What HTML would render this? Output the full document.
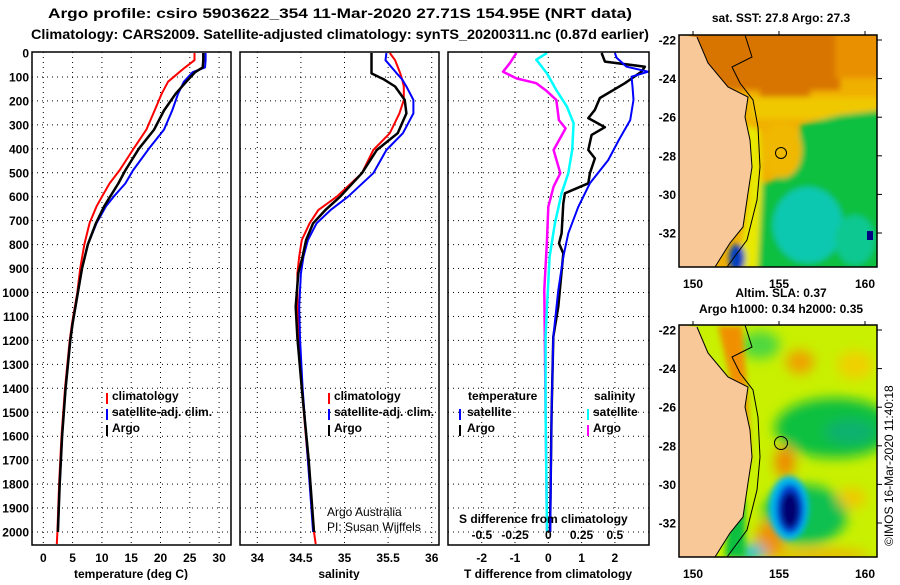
<!DOCTYPE html>
<html><head><meta charset="utf-8"><style>
body{margin:0;background:#fff;}
svg text{font-family:"Liberation Sans",Arial,sans-serif;font-weight:bold;font-size:12px;fill:#000;}
</style></head><body>
<svg id="c" width="900" height="580" viewBox="0 0 900 580" xmlns="http://www.w3.org/2000/svg">
<defs>
<filter id="bl" x="-30%" y="-30%" width="160%" height="160%"><feGaussianBlur stdDeviation="6"/></filter>
<filter id="bl2" x="-30%" y="-30%" width="160%" height="160%"><feGaussianBlur stdDeviation="3"/></filter>
<clipPath id="m1"><rect x="679" y="35" width="198" height="232"/></clipPath>
<clipPath id="m2"><rect x="679" y="325" width="198" height="232"/></clipPath>
</defs>
<text x="340" y="18" text-anchor="middle" textLength="584" lengthAdjust="spacingAndGlyphs" style="font-size:14px">Argo profile: csiro 5903622_354 11-Mar-2020 27.71S 154.95E (NRT data)</text>
<text x="340" y="39" text-anchor="middle" textLength="618" lengthAdjust="spacingAndGlyphs" style="font-size:14px">Climatology: CARS2009. Satellite-adjusted climatology: synTS_20200311.nc (0.87d earlier)</text>
<g id="panels"></g>
<g>
<rect x="106" y="393" width="2" height="11" fill="#f00"/><text x="112" y="400">climatology</text>
<rect x="106" y="409" width="2" height="11" fill="#00f"/><text x="112" y="416">satellite-adj. clim.</text>
<rect x="106" y="425" width="2" height="11" fill="#000"/><text x="112" y="432">Argo</text>
</g>
<g>
<rect x="328" y="393" width="2" height="11" fill="#f00"/><text x="334" y="400">climatology</text>
<rect x="328" y="409" width="2" height="11" fill="#00f"/><text x="334" y="416">satellite-adj. clim.</text>
<rect x="328" y="425" width="2" height="11" fill="#000"/><text x="334" y="432">Argo</text>
</g>
<g>
<text x="468" y="400">temperature</text><text x="594" y="400">salinity</text>
<rect x="459" y="409" width="2" height="11" fill="#00f"/><text x="467" y="416">satellite</text>
<rect x="459" y="425" width="2" height="11" fill="#000"/><text x="467" y="432">Argo</text>
<rect x="587" y="409" width="2" height="11" fill="#0ff"/><text x="593" y="416">satellite</text>
<rect x="587" y="425" width="2" height="11" fill="#f0f"/><text x="593" y="432">Argo</text>
</g>
<text x="327" y="516" style="font-weight:normal">Argo Australia</text>
<text x="327" y="531" style="font-weight:normal">PI: Susan Wijffels</text>
<text x="459" y="523">S difference from climatology</text>
<text x="131" y="578" text-anchor="middle">temperature (deg C)</text>
<text x="339" y="578" text-anchor="middle">salinity</text>
<text x="548" y="578" text-anchor="middle">T difference from climatology</text>

<g>
<text x="781" y="22" text-anchor="middle">sat. SST: 27.8 Argo: 27.3</text>
<g clip-path="url(#m1)">
<rect x="679" y="35" width="198" height="232" fill="#f0b000"/>
<g filter="url(#bl2)">
<rect x="690" y="28" width="150" height="62" fill="#d87400"/>
<rect x="835" y="28" width="50" height="50" fill="#e89000"/>
<rect x="760" y="85" width="50" height="14" fill="#d87400"/>
<rect x="750" y="97" width="135" height="22" fill="#f0c800"/>
<polygon points="800,125 840,115 885,110 885,190 760,190 800,160" fill="#10c040"/>
<ellipse cx="782" cy="150" rx="20" ry="28" fill="#f0b800"/>
<rect x="755" y="183" width="130" height="90" fill="#10c040"/>
<ellipse cx="808" cy="225" rx="35" ry="38" fill="#10c8b0"/>
<ellipse cx="855" cy="240" rx="20" ry="25" fill="#10c890"/>
<polygon points="745,125 760,130 762,190 758,270 738,270 748,200" fill="#e8e800"/>
<ellipse cx="737" cy="258" rx="8" ry="14" fill="#0040c0"/>
</g>
<rect x="867" y="231" width="6" height="9" fill="#000080"/>
<polygon points="679,35 697,37 708,63 728,87 748,97 745,117 750,140 752,167 748,193 743,227 730,243 715,267 679,267" fill="#f8c898"/>
<polyline points="697,37 708,63 728,87 748,97 745,117 750,140 752,167 748,193 743,227 730,243 715,267" fill="none" stroke="#000" stroke-width="1"/>
<polyline points="745,35 752,57 732,67 740,83 753,100 758,127 760,167 757,200 747,240 727,267" fill="none" stroke="#000" stroke-width="1"/>
<circle cx="781" cy="153" r="5.5" fill="none" stroke="#000" stroke-width="1"/>
</g>
<rect x="679" y="35" width="198" height="232" fill="none" stroke="#000" stroke-width="1.5"/>
</g>
<g>
<text x="781" y="297" text-anchor="middle">Altim. SLA: 0.37</text>
<text x="781" y="313" text-anchor="middle">Argo h1000: 0.34 h2000: 0.35</text>
<g clip-path="url(#m2)">
<rect x="679" y="325" width="198" height="232" fill="#c8f000"/>
<g filter="url(#bl)">
<ellipse cx="760" cy="345" rx="20" ry="14" fill="#50d840"/>
<ellipse cx="800" cy="362" rx="14" ry="12" fill="#f0a000"/>
<ellipse cx="855" cy="365" rx="18" ry="14" fill="#f0d000"/>
<ellipse cx="835" cy="428" rx="60" ry="30" fill="#10c040"/>
<ellipse cx="850" cy="432" rx="25" ry="12" fill="#10b070"/>
<ellipse cx="785" cy="462" rx="10" ry="16" fill="#f08800"/>
<ellipse cx="805" cy="515" rx="42" ry="30" fill="#10c050"/>
<ellipse cx="852" cy="498" rx="14" ry="10" fill="#f0c800"/>
<ellipse cx="770" cy="540" rx="14" ry="20" fill="#f09000"/>
<ellipse cx="820" cy="555" rx="50" ry="6" fill="#f0b000"/>
<ellipse cx="752" cy="552" rx="14" ry="8" fill="#10c0e0"/>
</g>
<g filter="url(#bl2)">
<ellipse cx="789" cy="508" rx="20" ry="32" fill="#00b8f0"/>
<ellipse cx="790" cy="509" rx="14" ry="25" fill="#0040d0"/>
<ellipse cx="790" cy="510" rx="9" ry="18" fill="#000070"/>
<polygon points="718,326 742,326 748,400 750,460 742,470 735,400" fill="#f09000"/>
<polygon points="730,500 745,500 745,557 725,557" fill="#10c040"/>
</g>
<polygon points="679,325 697,327 708,353 728,377 748,387 745,407 750,430 752,457 748,483 743,517 730,533 715,557 679,557" fill="#f8c898"/>
<polyline points="697,327 708,353 728,377 748,387 745,407 750,430 752,457 748,483 743,517 730,533 715,557" fill="none" stroke="#000" stroke-width="1"/>
<polyline points="745,325 752,347 732,357 740,373 753,390 758,417 760,457 757,490 747,530 727,557" fill="none" stroke="#000" stroke-width="1"/>
<circle cx="781" cy="443" r="6.5" fill="none" stroke="#000" stroke-width="1"/>
</g>
<rect x="679" y="325" width="198" height="232" fill="none" stroke="#000" stroke-width="1.5"/>
</g>
<text transform="translate(893,546) rotate(-90)" style="font-weight:normal">©IMOS 16-Mar-2020 11:40:18</text>
<g id="mapaxes"></g>
</svg>
<script>
// Temperature panel data
const tDepth = [0,30,60,80,120,170,240,320,400,490,545,600,640,710,800,900,1000,1130,1200,1400,1600,1800,2000,2050];
const tClim = [25.8,25.8,24.2,23.2,21.3,20.2,19.0,17.6,15.4,13.0,11.3,10.0,9.1,7.9,7.0,6.3,5.8,4.9,4.5,3.7,3.1,2.7,2.4,2.3];
const tSat = [27.7,27.7,27.6,25.5,24.0,23.0,22.0,20.6,18.0,15.3,14.0,12.0,10.7,9.1,7.6,6.6,5.9,5.0,4.6,3.8,3.2,2.8,2.5];
const tArgo = [27.3,27.3,27.2,25.9,24.4,22.6,20.6,18.9,16.3,14.0,12.8,11.4,10.4,9.0,7.6,6.6,5.9,5.0,4.6,3.8,3.2,2.8,2.5];
// Salinity panel data
const sDepth = [0,30,85,110,140,196,252,335,405,502,600,656,711,781,850,920,1059,1190,1400,1700,2000,2050];
const sClim = [35.52,35.58,35.64,35.66,35.68,35.68,35.63,35.52,35.33,35.20,34.91,34.70,34.60,34.51,34.48,34.46,34.46,34.48,34.51,34.58,34.65,34.67];
const sSat = [35.48,35.47,35.60,35.66,35.71,35.79,35.79,35.67,35.48,35.33,35.04,34.84,34.68,34.58,34.53,34.50,34.48,34.49,34.52,34.58,34.64];
const sArgo = [35.31,35.31,35.31,35.45,35.58,35.69,35.71,35.61,35.37,35.20,34.95,34.78,34.64,34.56,34.52,34.47,34.44,34.46,34.51,34.59,34.65];
// Difference panel data
const dtSatDepth = [0,20,57,78,99,140,196,280,363,447,544,642,753,851,990,1185,1500,2000];
const dtSat = [2.0,2.05,2.35,3.0,2.5,2.53,2.56,2.46,2.12,1.8,1.25,0.9,0.6,0.45,0.3,0.15,0.1,0.06];
const dtArgoDepth = [0,36,57,78,126,188,237,272,310,342,405,440,502,544,586,628,753,795,837,1059,1185,1500,2000];
const dtArgo = [1.6,1.7,2.9,2.8,2.3,1.55,1.4,1.2,1.7,1.3,1.2,1.4,1.25,1.2,0.5,0.45,0.4,0.32,0.45,0.3,0.15,0.1,0.05];
const dsSatDepth = [0,28,85,155,224,293,405,502,586,711,851,1059,1185,1500,2000];
const dsSat = [-0.01,-0.09,-0.01,0.06,0.14,0.19,0.18,0.15,0.10,0.05,0.01,-0.01,-0.02,-0.02,-0.01];
const dsArgoDepth = [0,43,78,106,126,155,196,280,315,405,502,558,642,781,990,1500,2000];
const dsArgo = [-0.24,-0.29,-0.34,-0.24,-0.09,-0.02,0.06,0.08,0.13,0.04,0.09,0.04,0.0,-0.01,-0.03,-0.02,-0.01];
const depthTicks = [0,100,200,300,400,500,600,700,800,900,1000,1100,1200,1300,1400,1500,1600,1700,1800,1900,2000];
const tTicks = [0,5,10,15,20,25,30];
const sTicks = [34,34.5,35,35.5,36];
const sTickLabels = ["34","34.5","35","35.5","36"];
const dtTicks = [-2,-1,0,1,2];
const dsTicks = [-0.5,-0.25,0,0.25,0.5];
const dsTickLabels = ["-0.5","-0.25","0","0.25","0.5"];
const latTicks = [-22,-24,-26,-28,-30,-32];
const lonTicks = [150,155,160];

const NS='http://www.w3.org/2000/svg';
const svg=document.getElementById('c');
const g=document.getElementById('panels');
const TOP=52,BOT=545;
const yD=d=>53+d*0.2395;
const xT=t=>43.3+t*5.86;
const xS=s=>257.3+(s-34)*87.2;
const xDT=t=>548.3+t*33.3;
const xDS=s=>548.3+s*133;
function el(tag,attrs,parent){const e=document.createElementNS(NS,tag);for(const k in attrs)e.setAttribute(k,attrs[k]);(parent||g).appendChild(e);return e;}
function txt(x,y,s,anchor,parent){const e=el('text',{x:x,y:y,'text-anchor':anchor||'middle'},parent);e.textContent=s;return e;}
const panels=[{l:32,r:231,name:'temperature-panel'},{l:240,r:439,name:'salinity-panel'},{l:448,r:649,name:'difference-panel'}];
panels.forEach((p,i)=>{
  const pg=el('g',{});
  
  
  depthTicks.forEach(d=>{if(d>0)el('line',{x1:p.l,x2:p.r,y1:yD(d),y2:yD(d),stroke:'#000','stroke-width':1,'stroke-dasharray':'1,4'},pg);});
  const xs=i==0?tTicks.map(xT):i==1?sTicks.map(xS):dtTicks.map(xDT);
  xs.forEach(x=>el('line',{x1:x,x2:x,y1:TOP,y2:BOT,stroke:'#000','stroke-width':1,'stroke-dasharray':'1,4'},pg));
  p.g=pg;
});
depthTicks.forEach(d=>{const t=txt(29,yD(d)+4.5,String(d),'end');
  
  });
tTicks.forEach(v=>{const t=txt(xT(v),562,String(v));
  
  });
sTicks.forEach((v,i)=>{const t=txt(xS(v),562,sTickLabels[i]);
  
  });
dtTicks.forEach(v=>{const t=txt(xDT(v),562,String(v));
  
  });
dsTicks.forEach((v,i)=>{const t=txt(xDS(v),539,dsTickLabels[i]);
  
  });
function line(xs,ds,xf,color,w,name,p){
  const pts=xs.map((v,i)=>xf(v).toFixed(1)+','+yD(ds[i]).toFixed(1)).join(' ');
  const e=el('polyline',{points:pts,fill:'none',stroke:color,'stroke-width':w,'stroke-linejoin':'round'},p.g);
  
  
}
const cp=el('clipPath',{id:'pc'},svg.querySelector('defs'));el('rect',{x:448,y:52,width:201,height:493},cp);
line(tClim,tDepth,xT,'#f00',2,'temperature-climatology-line',panels[0]);
line(tSat,tDepth,xT,'#00f',2,'temperature-satellite-line',panels[0]);
line(tArgo,tDepth,xT,'#000',2.5,'temperature-argo-line',panels[0]);
line(sClim,sDepth,xS,'#f00',2,'salinity-climatology-line',panels[1]);
line(sSat,sDepth,xS,'#00f',2,'salinity-satellite-line',panels[1]);
line(sArgo,sDepth,xS,'#000',2.5,'salinity-argo-line',panels[1]);
panels[2].g.setAttribute('clip-path','url(#pc)');
line(dsArgo,dsArgoDepth,xDS,'#f0f',2.5,'s-diff-argo-line',panels[2]);
line(dsSat,dsSatDepth,xDS,'#0ff',2.5,'s-diff-satellite-line',panels[2]);
line(dtArgo,dtArgoDepth,xDT,'#000',2.5,'t-diff-argo-line',panels[2]);
line(dtSat,dtSatDepth,xDT,'#00f',2,'t-diff-satellite-line',panels[2]);
panels.forEach(p=>{const b=el('rect',{x:p.l,y:TOP,width:p.r-p.l,height:BOT-TOP,fill:'none',stroke:'#000','stroke-width':1.5});
  
  });
const ma=document.getElementById('mapaxes');
[[40,288,35,267],[330,578,325,557]].forEach(([y0,ly,top,bot])=>{
  latTicks.forEach(v=>{const y=y0+(-22-v)*19.3;
    const t=txt(676,y+4.5,String(v),'end',ma);
    
    
    el('line',{x1:877,x2:882,y1:y,y2:y,stroke:'#000'},ma);});
  lonTicks.forEach(v=>{const x=693+(v-150)*17.2;
    const t=txt(x,ly,String(v),'middle',ma);
    
    
    el('line',{x1:x,x2:x,y1:top-4,y2:top,stroke:'#000'},ma);});
});
</script>
</body></html>
